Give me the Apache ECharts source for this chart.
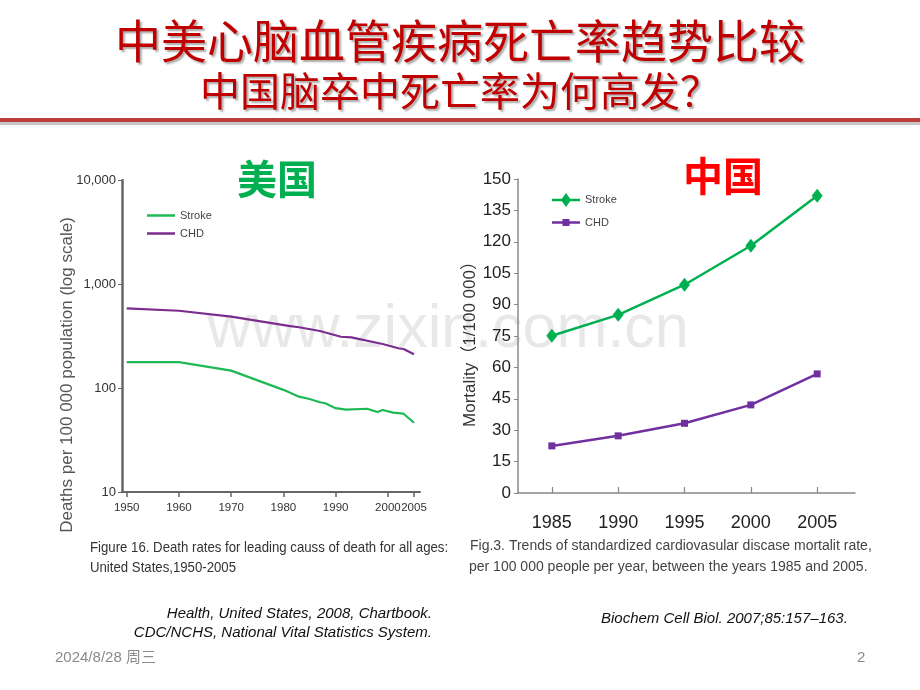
<!DOCTYPE html>
<html><head><meta charset="utf-8">
<script src="https://cdn.jsdelivr.net/npm/echarts@6/dist/echarts.min.js"></script>
<style>html,body{margin:0;padding:0;background:#fff}#c{width:920px;height:690px}</style>
</head><body><div id="c"></div>
<script>
// ---- United States (log scale) ----
const usStrokeYears = [1950, 1960, 1970, 1980, 1983, 1985, 1987, 1988, 1990, 1992, 1996, 1998, 1999, 2001, 2003, 2005];
const usStroke      = [177, 177, 147, 96, 82.5, 78.3, 72.9, 71.3, 64, 61.9, 63.2, 58.8, 61.4, 57.9, 56.6, 46.3];
const usChdYears    = [1950, 1960, 1970, 1981, 1983, 1987, 1991, 1993, 1999, 2002, 2003, 2005];
const usChd         = [583, 553, 485, 395, 384, 353, 311, 307, 265, 241, 237, 211];
const usYearTicks   = [1950, 1960, 1970, 1980, 1990, 2000, 2005];
const usValueTicks  = [10, 100, 1000, 10000];

// ---- China ----
const cnYears  = [1985, 1990, 1995, 2000, 2005];
const cnStroke = [75.1, 85.1, 99.5, 118.1, 142.0];
const cnChd    = [22.5, 27.3, 33.3, 42.1, 56.9];

const SANS = '"Liberation Sans",Arial,"Noto Sans CJK SC",sans-serif';
const CJK = '"Noto Sans CJK SC",sans-serif';

const pairs = (xs, ys) => xs.map((x, i) => [x, ys[i]]);

// legend icons (line, line + diamond, line + square)
const ICON_LINE = 'path://M0,0L28,0L28,2.5L0,2.5Z';
const ICON_DIAMOND = 'path://M0,5.75L28,5.75L28,8.25L0,8.25Z M14,0L19,7L14,14L9,7Z';
const ICON_SQUARE = 'path://M0,2.25L28,2.25L28,4.75L0,4.75Z M10.5,0L17.5,0L17.5,7L10.5,7Z';

const chart = echarts.init(document.getElementById('c'), null, {renderer: 'canvas'});
const titleShadow = {textShadowColor: 'rgba(110,110,110,0.6)', textShadowBlur: 2, textShadowOffsetX: 2, textShadowOffsetY: 2};

chart.setOption({
  backgroundColor: '#ffffff',
  animation: false,
  title: [
    {text: '中美心脑血管疾病死亡率趋势比较', left: 'center', top: 13,
     textStyle: Object.assign({color: '#C00000', fontSize: 46, fontWeight: 'normal', fontFamily: CJK}, titleShadow)},
    {text: '中国脑卒中死亡率为何高发？', left: 'center', top: 66,
     textStyle: Object.assign({color: '#C00000', fontSize: 40, fontWeight: 'normal', fontFamily: CJK}, titleShadow)}
  ],
  graphic: [
    {type: 'rect', shape: {x: 0, y: 122, width: 920, height: 3}, style: {fill: '#c8c8c8'}, silent: true},
    {type: 'rect', shape: {x: 0, y: 118, width: 920, height: 4}, style: {fill: '#BE3C3C'}, silent: true},
    {type: 'text', x: 448, y: 330, z: -1, silent: true,
     style: {text: 'www.zixin.com.cn', font: '61px "Liberation Sans",Arial,sans-serif', fill: 'rgba(205,205,205,0.45)', textAlign: 'center', textVerticalAlign: 'middle'}},
    {type: 'text', x: 277, y: 179, style: {text: '美国', font: 'bold 40px ' + CJK, fill: '#00B050', textAlign: 'center', textVerticalAlign: 'middle'}},
    {type: 'text', x: 723, y: 176, style: {text: '中国', font: 'bold 40px ' + CJK, fill: '#FF0000', textAlign: 'center', textVerticalAlign: 'middle'}},
    {type: 'text', x: 67, y: 375, rotation: Math.PI / 2,
     style: {text: 'Deaths per 100 000 population (log scale)', font: '17px ' + SANS, fill: '#555', textAlign: 'center', textVerticalAlign: 'middle'}},
    {type: 'text', x: 470, y: 340, rotation: Math.PI / 2,
     style: {text: 'Mortality（1/100 000）', font: '17px ' + SANS, fill: '#333', textAlign: 'center', textVerticalAlign: 'middle'}},
    {type: 'text', x: 90, y: 548, scaleX: 0.88, style: {text: 'Figure 16. Death rates for leading causs of death for all ages:', font: '15px ' + SANS, fill: '#333', textVerticalAlign: 'middle'}},
    {type: 'text', x: 90, y: 568, scaleX: 0.88, style: {text: 'United States,1950-2005', font: '15px ' + SANS, fill: '#333', textVerticalAlign: 'middle'}},
    {type: 'text', x: 470, y: 546, style: {text: 'Fig.3. Trends of standardized cardiovasular discase mortalit rate,', font: '14px ' + SANS, fill: '#444', textVerticalAlign: 'middle'}},
    {type: 'text', x: 469, y: 567, style: {text: 'per 100 000 people per year, between the years 1985 and 2005.', font: '14px ' + SANS, fill: '#444', textVerticalAlign: 'middle'}},
    {type: 'text', x: 432, y: 614, style: {text: 'Health, United States, 2008, Chartbook.', font: 'italic 15px ' + SANS, fill: '#111', textAlign: 'right', textVerticalAlign: 'middle'}},
    {type: 'text', x: 432, y: 633, style: {text: 'CDC/NCHS, National Vital Statistics System.', font: 'italic 15px ' + SANS, fill: '#111', textAlign: 'right', textVerticalAlign: 'middle'}},
    {type: 'text', x: 601, y: 619, style: {text: 'Biochem Cell Biol. 2007;85:157–163.', font: 'italic 15px ' + SANS, fill: '#111', textVerticalAlign: 'middle'}},
    {type: 'text', x: 55, y: 658, style: {text: '2024/8/28 周三', font: '15px ' + SANS, fill: '#8a8a8a', textVerticalAlign: 'middle'}},
    {type: 'text', x: 857, y: 658, style: {text: '2', font: '15px ' + SANS, fill: '#8a8a8a', textVerticalAlign: 'middle'}}
  ],
  legend: [
    {orient: 'vertical', left: 142, top: 205, itemWidth: 28, itemHeight: 14, itemGap: 7,
     data: [{name: 'Stroke', icon: ICON_LINE}, {name: 'CHD', icon: ICON_LINE}],
     textStyle: {fontSize: 11, color: '#444', fontFamily: SANS}, selectedMode: false},
    {orient: 'vertical', left: 547, top: 188, itemWidth: 28, itemHeight: 14, itemGap: 10,
     data: [{name: 'Stroke ', icon: ICON_DIAMOND}, {name: 'CHD ', icon: ICON_SQUARE}],
     formatter: n => n.trim(), textStyle: {fontSize: 11, color: '#444', fontFamily: SANS}, selectedMode: false}
  ],
  grid: [
    {left: 122, top: 180, width: 298, height: 312},
    {left: 518, top: 179, width: 337, height: 314}
  ],
  xAxis: [
    {gridIndex: 0, type: 'value', min: 1949.1, max: 2006.15,
     axisLine: {lineStyle: {color: '#666', width: 2}},
     axisTick: {show: true, customValues: usYearTicks, length: 5, lineStyle: {color: '#666', width: 1.5}},
     axisLabel: {customValues: usYearTicks, margin: 10, fontSize: 11.5, color: '#333', fontFamily: SANS,
                 hideOverlap: false, formatter: v => String(v)},
     splitLine: {show: false}},
    {gridIndex: 1, type: 'value', min: 1982.45, max: 2007.85,
     axisLine: {lineStyle: {color: '#888', width: 1.5}},
     axisTick: {show: true, inside: true, customValues: cnYears, length: 6, lineStyle: {color: '#888', width: 1.2}},
     axisLabel: {customValues: cnYears, margin: 21, fontSize: 18, color: '#222', fontFamily: SANS, formatter: v => String(v)},
     splitLine: {show: false}}
  ],
  yAxis: [
    {gridIndex: 0, type: 'log', logBase: 10, min: 10, max: 10000,
     axisLine: {show: true, lineStyle: {color: '#666', width: 2.5}},
     axisTick: {show: true, customValues: usValueTicks, length: 4, lineStyle: {color: '#666'}},
     axisLabel: {customValues: usValueTicks, margin: 6, fontSize: 13, color: '#333', fontFamily: SANS,
                 formatter: v => Number(v).toLocaleString('en-US')},
     splitLine: {show: false}, minorTick: {show: false}},
    {gridIndex: 1, type: 'value', min: 0, max: 150, interval: 15,
     axisLine: {show: true, lineStyle: {color: '#888', width: 1.5}},
     axisTick: {show: true, length: 4, lineStyle: {color: '#888'}},
     axisLabel: {margin: 7, fontSize: 17, color: '#222', fontFamily: SANS},
     splitLine: {show: false}}
  ],
  series: [
    {name: 'Stroke', type: 'line', xAxisIndex: 0, yAxisIndex: 0, symbol: 'none', data: pairs(usStrokeYears, usStroke),
     lineStyle: {color: '#1DB954', width: 2.2}, itemStyle: {color: '#1DB954'}},
    {name: 'CHD', type: 'line', xAxisIndex: 0, yAxisIndex: 0, symbol: 'none', data: pairs(usChdYears, usChd),
     lineStyle: {color: '#7B2D8E', width: 2.2}, itemStyle: {color: '#7B2D8E'}},
    {name: 'Stroke ', type: 'line', xAxisIndex: 1, yAxisIndex: 1, symbol: 'diamond', symbolSize: [11, 14], data: pairs(cnYears, cnStroke),
     lineStyle: {color: '#00B050', width: 2.5}, itemStyle: {color: '#00B050'}},
    {name: 'CHD ', type: 'line', xAxisIndex: 1, yAxisIndex: 1, symbol: 'rect', symbolSize: 7, data: pairs(cnYears, cnChd),
     lineStyle: {color: '#7030A0', width: 2.5}, itemStyle: {color: '#7030A0'}}
  ]
});
</script></body></html>
